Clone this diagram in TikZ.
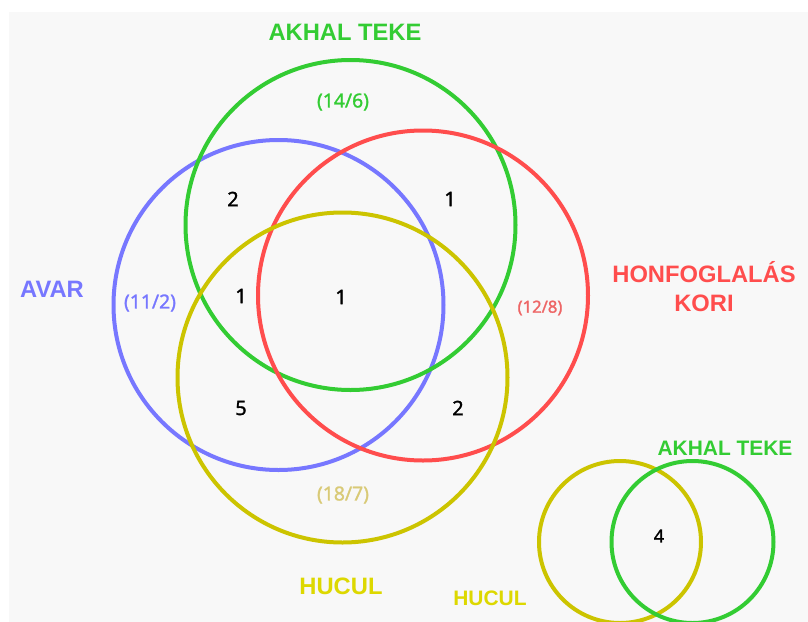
\documentclass[tikz,border=0pt]{standalone}
\usepackage{fontspec}
\setmainfont{Noto Sans}
\newfontfamily\titlefont{Liberation Sans}
\newfontfamily\numfont[FakeBold=1.3]{Noto Sans}
\usetikzlibrary{positioning}
\definecolor{bggray}{HTML}{F8F8F8}
\definecolor{akhalgreen}{HTML}{33CC33}
\definecolor{avarblue}{HTML}{7777FF}
\definecolor{honred}{HTML}{FF4D4D}
\definecolor{huculolive}{HTML}{CCC400}
\definecolor{huculyellow}{HTML}{DDD800}
\definecolor{honcount}{HTML}{EE6666}
\definecolor{huculcount}{HTML}{D9CA77}

\begin{document}
\begin{tikzpicture}[x=0.75pt,y=-0.75pt]
    \tikzstyle{set}=[circle, minimum size=247.5pt, inner sep=0pt, line width=3pt, draw]
    \tikzstyle{small set}=[set, minimum size=121.5pt]
    \tikzstyle{title}=[font=\titlefont\bfseries\fontsize{17.8}{22}\selectfont, align=center]
    \tikzstyle{small title}=[font=\titlefont\bfseries\fontsize{15.7}{18}\selectfont]
    \tikzstyle{count}=[font=\numfont\fontsize{14.5}{16}\selectfont]
    \tikzstyle{num}=[font=\numfont\fontsize{15}{16}\selectfont]

    \useasboundingbox (0,0) rectangle (808,622);
    \clip (0,0) rectangle (808,622);
    \fill[bggray] (9,12) rectangle (808,622);

    % sets
    \node[set, draw=avarblue]        (avar)  at (278.5,305) {};
    \node[set, draw=akhalgreen]      (akhal) at (350.5,225) {};
    \node[set, draw=honred]          (hon)   at (423,295.5) {};
    \node[set, draw=huculolive]      (hucul) at (342.5,377.5) {};
    \node[small set, draw=huculolive] (hucul2) at (620,542) {};
    \node[small set, draw=akhalgreen] (akhal2) at (692.5,542) {};

    % names
    \node[title, text=akhalgreen]  (akhal name) at (345,32) {AKHAL TEKE};
    \node[title, text=avarblue]    (avar name)  at (52,289) {AVAR};
    \node[title, text=honred]      (hon name)   at (704,286.5) {HONFOGLALÁS\\KORI};
    \node[title, text=huculyellow] (hucul name) at (341,586) {HUCUL};
    \node[small title, text=huculyellow] (hucul2 name) at (490,598) {HUCUL};
    \node[small title, text=akhalgreen]  (akhal2 name) at (725,448) {AKHAL TEKE};

    % totals
    \node[count, text=akhalgreen] (akhal total) at (343,102) {(14/6)};
    \node[count, text=avarblue]   (avar total)  at (150,303) {(11/2)};
    \node[count, text=honcount, font=\numfont\fontsize{12.5}{14}\selectfont] (hon total) at (540,308) {(12/8)};
    \node[count, text=huculcount] (hucul total) at (343,495) {(18/7)};

    % overlaps
    \node[num] (avar akhal)      at (233,199) {2};
    \node[num] (akhal hon)       at (450,199) {1};
    \node[num] (avar akhal hucul) at (241,296) {1};
    \node[num] (all)             at (341,297) {1};
    \node[num] (avar hucul)      at (241,408) {5};
    \node[num] (hon hucul)       at (458,408) {2};
    \node[num, font=\numfont\fontsize{13.5}{15}\selectfont] (small both) at (659,536) {4};
\end{tikzpicture}
\end{document}
